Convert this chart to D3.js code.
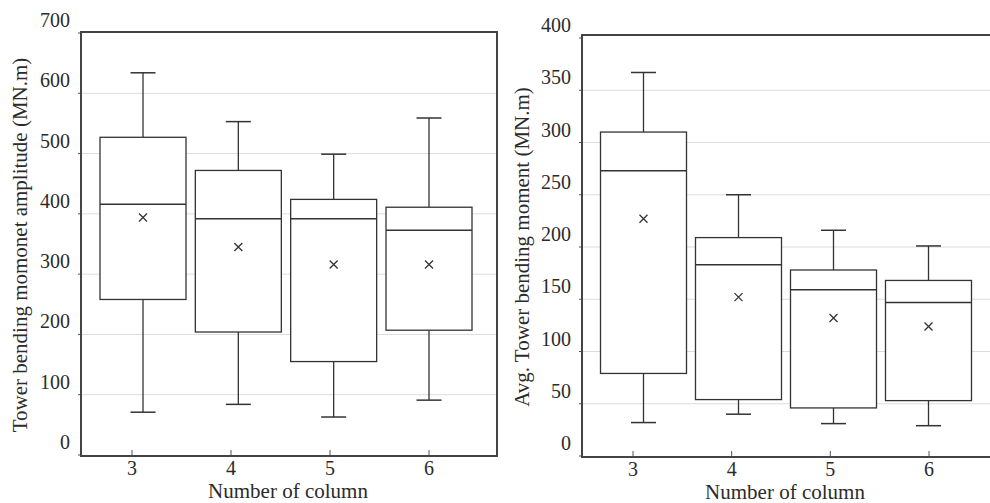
<!DOCTYPE html>
<html>
<head>
<meta charset="utf-8">
<script src="https://cdn.jsdelivr.net/npm/d3@7"></script>
<style>
  body { margin: 0; background: #fff; }
  text { font-family: "Liberation Serif", "Times New Roman", serif; fill: #2b2b2b; }
</style>
</head>
<body>
<svg id="chart" width="990" height="503"></svg>
<script>
// categories (number of columns)
const columns = [3, 4, 5, 6];

// left panel: tower bending moment amplitude (MN.m)
const ampMin    = [71, 84, 63, 91];
const ampQ1     = [258, 204, 155, 207];
const ampMedian = [416, 392, 392, 373];
const ampQ3     = [527, 472, 424, 411];
const ampMax    = [634, 553, 499, 559];
const ampMean   = [394, 345, 316, 316];
const ampTicks  = [0, 100, 200, 300, 400, 500, 600, 700];

// right panel: average tower bending moment (MN.m)
const avgMin    = [32, 40, 31, 29];
const avgQ1     = [79, 54, 46, 53];
const avgMedian = [273, 183, 159, 147];
const avgQ3     = [310, 209, 178, 168];
const avgMax    = [367, 250, 216, 201];
const avgMean   = [227, 152, 132, 124];
const avgTicks  = [0, 50, 100, 150, 200, 250, 300, 350, 400];

const svg = d3.select("#chart");

function drawPanel(opt) {
    const g = svg.append("g");
    const y = d3.scaleLinear().domain(opt.yDomain).range([opt.bottom, opt.yTop]);
    // boxes and tick labels are slightly offset in the original figure
    const xBox = d3.scaleLinear().domain([3, 6]).range(opt.boxRange);
    const xTick = d3.scaleLinear().domain([3, 6]).range(opt.tickRange);

    // grid lines
    g.selectAll(".grid")
        .data(opt.ticks.filter(t => t > opt.yDomain[0] && t < opt.yDomain[1]))
        .join("line")
        .attr("x1", opt.left).attr("x2", opt.right)
        .attr("y1", d => y(d)).attr("y2", d => y(d))
        .attr("stroke", "#dcdcdc").attr("stroke-width", 1);

    // y tick marks + labels (labels sit above their lines, like the original)
    g.selectAll(".ytick")
        .data(opt.ticks)
        .join("line")
        .attr("x1", opt.left - 3).attr("x2", opt.left)
        .attr("y1", d => y(d)).attr("y2", d => y(d))
        .attr("stroke", "#555");
    g.selectAll(".ylab")
        .data(opt.ticks)
        .join("text")
        .attr("x", opt.left - 11)
        .attr("y", d => y(d) - 13)
        .attr("dy", "0.35em")
        .attr("text-anchor", "end")
        .style("font-size", "20px")
        .text(d => d);

    // x tick marks + labels
    g.selectAll(".xtick")
        .data(columns)
        .join("line")
        .attr("x1", d => xTick(d)).attr("x2", d => xTick(d))
        .attr("y1", opt.bottom - 5).attr("y2", opt.bottom)
        .attr("stroke", "#555");
    g.selectAll(".xlab")
        .data(columns)
        .join("text")
        .attr("x", d => xTick(d))
        .attr("y", opt.bottom + 13)
        .attr("dy", "0.35em")
        .attr("text-anchor", "middle")
        .style("font-size", "20px")
        .text(d => d);

    const bw = 86, cap = 25;
    const stats = columns.map((c, i) => ({
        c: c, min: opt.min[i], q1: opt.q1[i], med: opt.med[i],
        q3: opt.q3[i], max: opt.max[i], mean: opt.mean[i]
    }));
    const box = g.selectAll(".box").data(stats).join("g");

    // whiskers
    box.append("line")
        .attr("x1", d => xBox(d.c)).attr("x2", d => xBox(d.c))
        .attr("y1", d => y(d.q3)).attr("y2", d => y(d.max))
        .attr("stroke", "#333").attr("stroke-width", 1.3);
    box.append("line")
        .attr("x1", d => xBox(d.c)).attr("x2", d => xBox(d.c))
        .attr("y1", d => y(d.q1)).attr("y2", d => y(d.min))
        .attr("stroke", "#333").attr("stroke-width", 1.3);
    box.append("line")
        .attr("x1", d => xBox(d.c) - cap / 2).attr("x2", d => xBox(d.c) + cap / 2)
        .attr("y1", d => y(d.max)).attr("y2", d => y(d.max))
        .attr("stroke", "#333").attr("stroke-width", 1.5);
    box.append("line")
        .attr("x1", d => xBox(d.c) - cap / 2).attr("x2", d => xBox(d.c) + cap / 2)
        .attr("y1", d => y(d.min)).attr("y2", d => y(d.min))
        .attr("stroke", "#333").attr("stroke-width", 1.5);

    // box
    box.append("rect")
        .attr("x", d => xBox(d.c) - bw / 2)
        .attr("y", d => y(d.q3))
        .attr("width", bw)
        .attr("height", d => y(d.q1) - y(d.q3))
        .attr("fill", "#fff")
        .attr("stroke", "#333").attr("stroke-width", 1.3);
    // median
    box.append("line")
        .attr("x1", d => xBox(d.c) - bw / 2).attr("x2", d => xBox(d.c) + bw / 2)
        .attr("y1", d => y(d.med)).attr("y2", d => y(d.med))
        .attr("stroke", "#333").attr("stroke-width", 1.5);
    // mean marker
    const m = 4;
    box.append("path")
        .attr("d", d => {
            const cx = xBox(d.c), cy = y(d.mean);
            return `M${cx - m},${cy - m}L${cx + m},${cy + m}M${cx - m},${cy + m}L${cx + m},${cy - m}`;
        })
        .attr("stroke", "#333").attr("stroke-width", 1.3).attr("fill", "none");

    // frame
    g.append("rect")
        .attr("x", opt.left).attr("y", opt.top)
        .attr("width", opt.right - opt.left)
        .attr("height", opt.bottom - opt.top + 1)
        .attr("fill", "none")
        .attr("stroke", "#444").attr("stroke-width", 2);

    // axis titles
    g.append("text")
        .attr("x", (opt.left + Math.min(opt.right, 990)) / 2 - 1)
        .attr("y", opt.titleBottomY)
        .attr("dy", "0.35em")
        .attr("text-anchor", "middle")
        .style("font-size", "21px")
        .text("Number of column");
    g.append("text")
        .attr("transform", `translate(${opt.titleX},${opt.titleY}) rotate(-90)`)
        .attr("text-anchor", "middle")
        .attr("dy", "0.35em")
        .style("font-size", "21px")
        .text(opt.yTitle);
}

drawPanel({
    left: 81, right: 497, top: 32, bottom: 455, yTop: 33,
    yDomain: [0, 700], ticks: ampTicks,
    boxRange: [143, 429], tickRange: [132, 429],
    min: ampMin, q1: ampQ1, med: ampMedian, q3: ampQ3, max: ampMax, mean: ampMean,
    yTitle: "Tower bending momonet amplitude (MN.m)", titleX: 20, titleY: 245,
    titleBottomY: 491
});

drawPanel({
    left: 582, right: 996, top: 35, bottom: 456, yTop: 38,
    yDomain: [0, 400], ticks: avgTicks,
    boxRange: [643.5, 928.5], tickRange: [633, 929],
    min: avgMin, q1: avgQ1, med: avgMedian, q3: avgQ3, max: avgMax, mean: avgMean,
    yTitle: "Avg. Tower bending moment (MN.m)", titleX: 522, titleY: 247,
    titleBottomY: 492
});
</script>
</body>
</html>
